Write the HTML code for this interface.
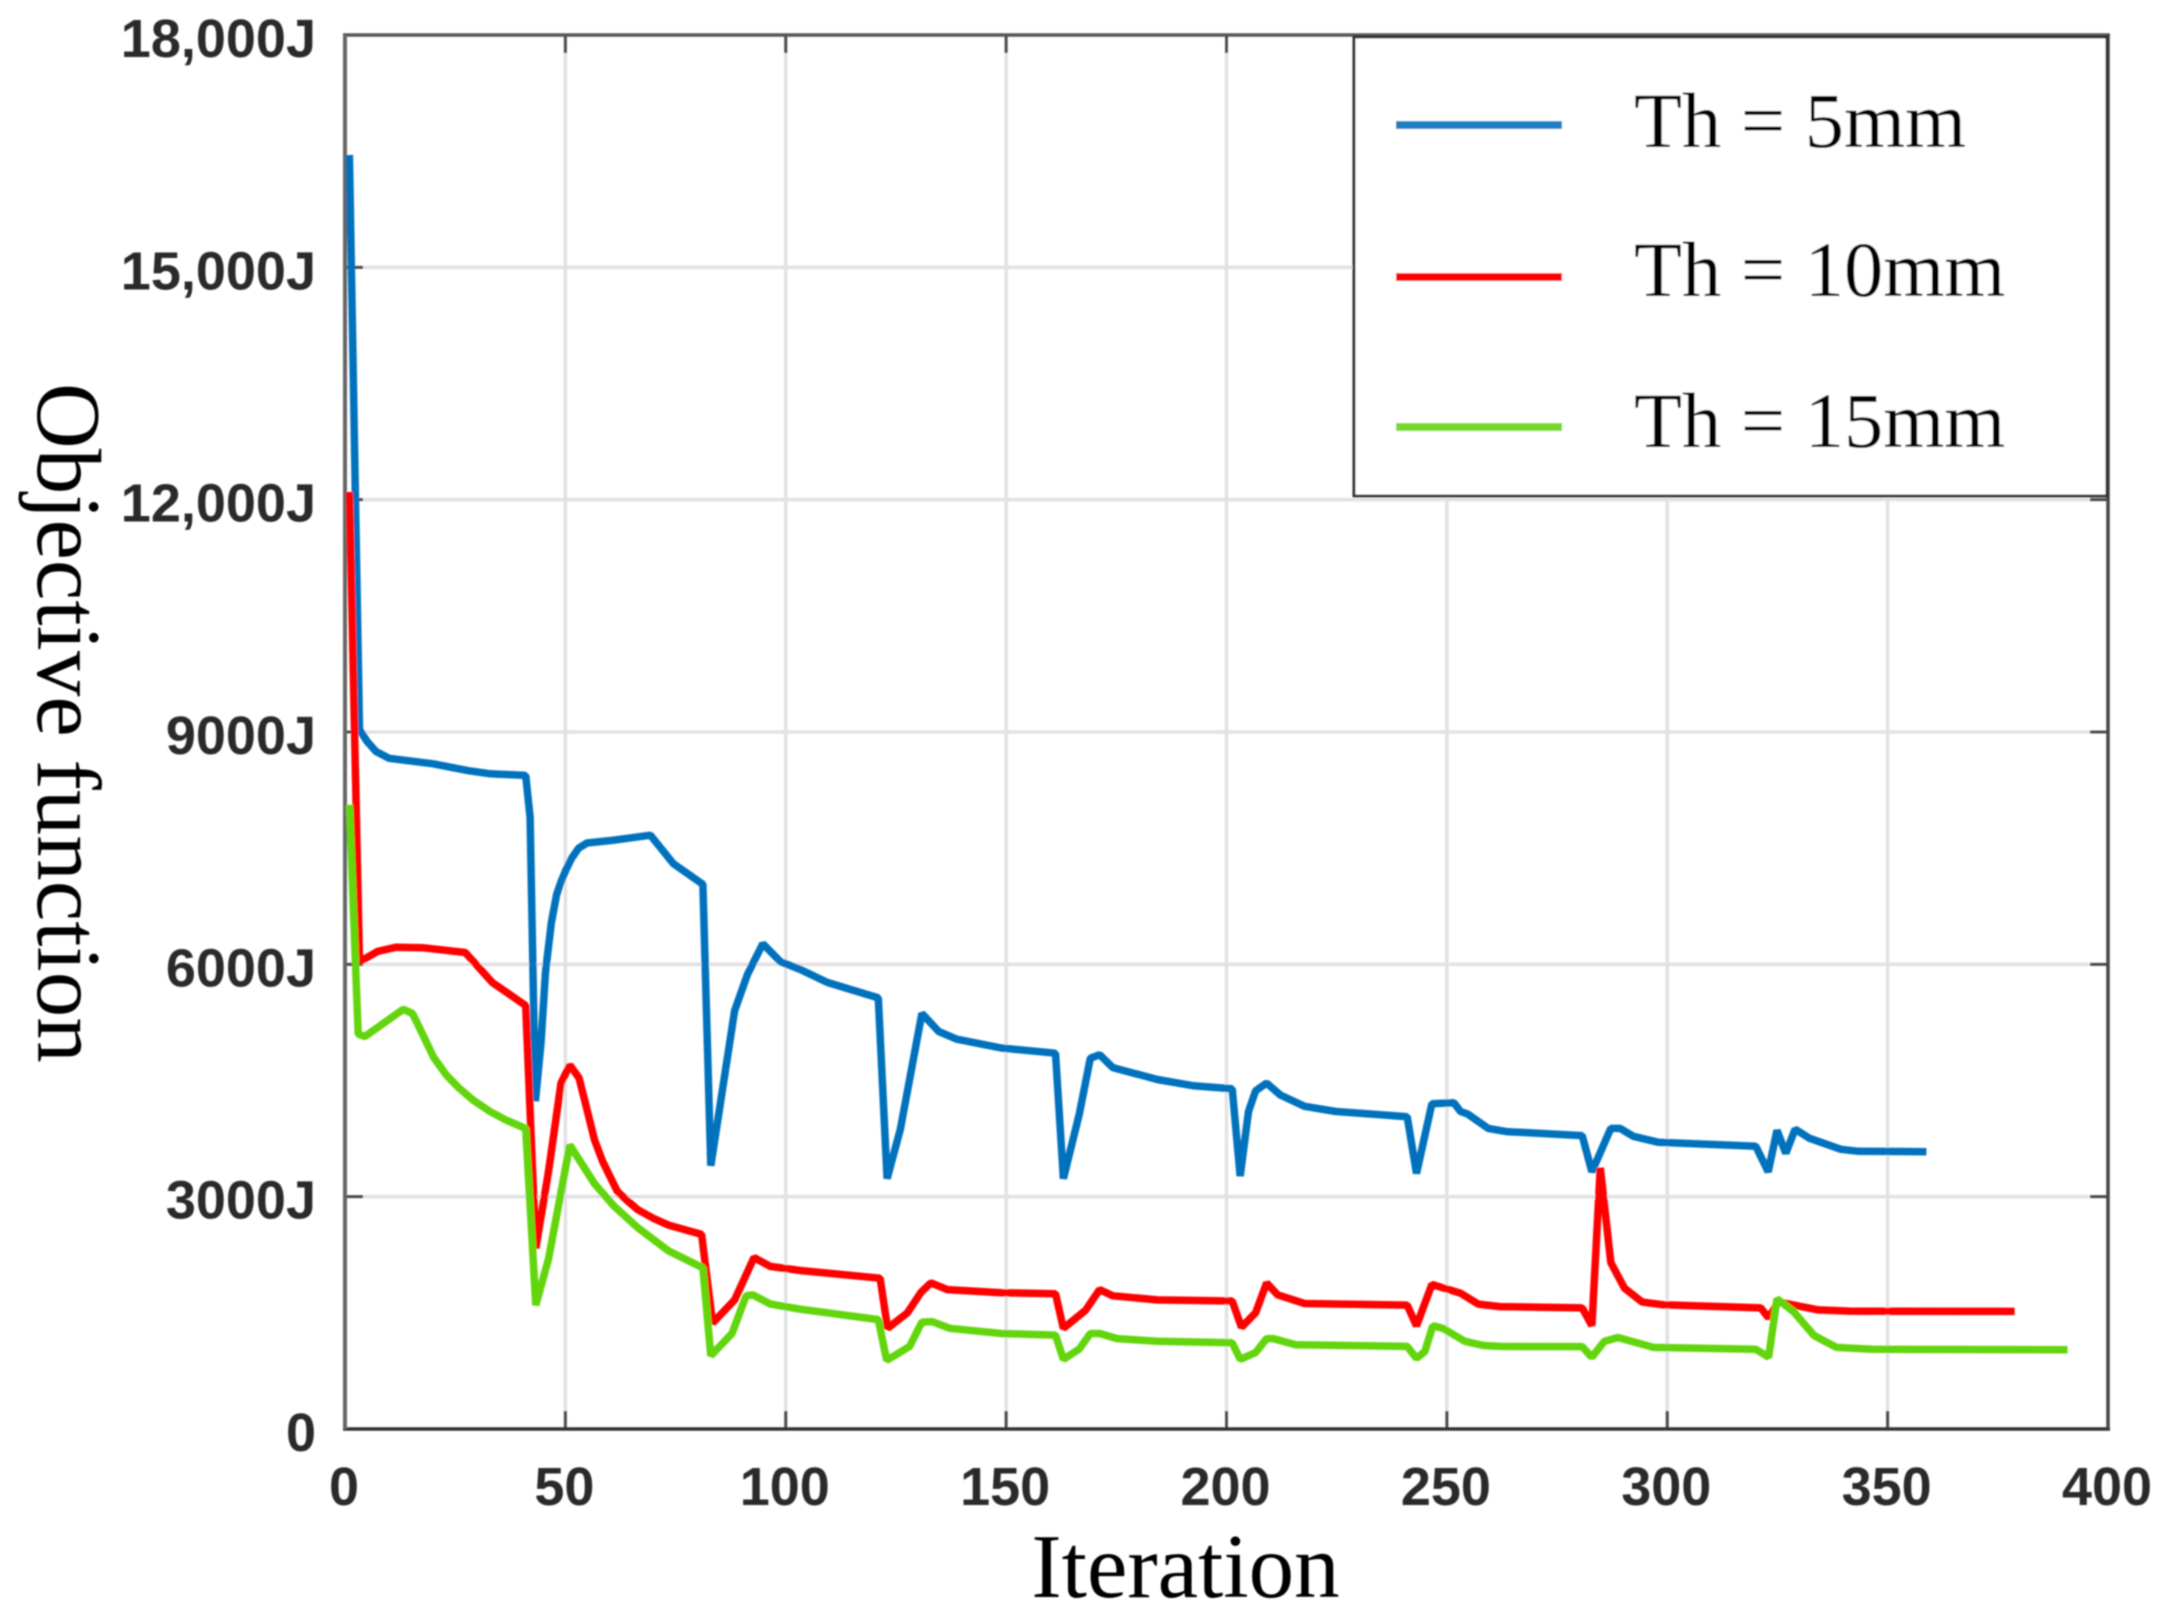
<!DOCTYPE html>
<html lang="en">
<head>
<meta charset="utf-8">
<title>Objective function vs Iteration</title>
<style>
html,body{margin:0;padding:0;background:#fff;width:2171px;height:1619px;overflow:hidden}
svg{display:block}
.tick-label{font-family:"Liberation Sans",sans-serif;font-weight:700;font-size:54px;fill:#2a2a2a}
.serif{font-family:"Liberation Serif",serif;fill:#000}
</style>
</head>
<body>
<svg id="chart" xmlns="http://www.w3.org/2000/svg" width="2171" height="1619" viewBox="0 0 2171 1619">
  <defs>
    <filter id="soft" x="-2%" y="-2%" width="104%" height="104%"><feGaussianBlur stdDeviation="0.8"/></filter>
  </defs>
  <rect width="2171" height="1619" fill="#fff"/>
  <g id="root" filter="url(#soft)">
    <g id="grid"></g>
    <g id="frame"></g>
    <g id="xlabels"></g>
    <g id="ylabels"></g>
    <g id="series"></g>
    <text class="serif" x="1185.5" y="1597" font-size="91" text-anchor="middle">Iteration</text>
    <text class="serif" transform="translate(38 383) rotate(90)" font-size="91">Objective function</text>
    <g>
      <rect x="1354" y="37" width="753" height="459" fill="#fff" stroke="#333" stroke-width="3"/>
      <line x1="1396" x2="1562" y1="125" y2="125" stroke="#1a80c4" stroke-width="8"/>
      <text class="serif" x="1634" y="147" font-size="78.5">Th = 5mm</text>
      <line x1="1396" x2="1562" y1="277" y2="277" stroke="#ff0000" stroke-width="8"/>
      <text class="serif" x="1634" y="296" font-size="78.5">Th = 10mm</text>
      <line x1="1396" x2="1562" y1="427" y2="427" stroke="#76d92b" stroke-width="8"/>
      <text class="serif" x="1634" y="447" font-size="78.5">Th = 15mm</text>
    </g>
  </g>
</svg>
<script>
const xTicks = [0, 50, 100, 150, 200, 250, 300, 350, 400];
const yTicks = [0, 3000, 6000, 9000, 12000, 15000, 18000];
const yTickLabels = ['0', '3000J', '6000J', '9000J', '12,000J', '15,000J', '18,000J'];

const iterThin5 = [1,3.3,5,7,10,20,28,33,41,42,43.2,44.5,45.5,46.8,48,49,50.2,51.4,53,54.9,60.6,69.3,74.5,81.2,83,88.4,91.3,94.8,98.8,103.3,109.4,121,123,126,130.9,134.7,138.8,148.9,161.2,163,166.6,169.1,171.2,174.2,184.3,192.4,201.3,203.1,205,206.6,209.1,212.2,217.7,224.8,241,243.1,246.6,251.6,253.1,254.7,259.4,263.5,280.7,282.9,287.2,289.3,292.3,297.9,320.1,322.9,324.9,326.9,329,332.3,339.4,343.4,358.8];
const energyThin5 = [16450,9030,8880,8750,8660,8590,8500,8460,8440,7900,4233,5000,5900,6533,6900,7067,7230,7367,7500,7567,7600,7667,7300,7033,3400,5400,5867,6267,6033,5933,5767,5567,3233,3867,5367,5133,5033,4920,4853,3233,4067,4787,4833,4667,4513,4433,4393,3267,4100,4367,4467,4313,4167,4100,4033,3300,4200,4213,4100,4067,3881,3840,3789,3321,3881,3881,3779,3703,3652,3321,3856,3560,3871,3754,3611,3586,3580];

const iterThin10 = [1,3.3,7.4,11.5,17.8,27.3,33.4,41,43.3,46.2,49,51,53.1,54.8,56.6,58.5,61.8,64,66.4,70,73.4,80.9,83.4,88.4,92.8,96.5,103.3,121.4,123.1,127.6,130.7,132.9,136.7,148.9,161.2,163,168,171.2,174.2,184.3,201.3,203.4,206.6,209.1,211.6,217.7,241,243.1,246.6,253.1,257.1,262,280.7,282.9,284.8,287.2,290.3,294.3,298.9,321.2,323,325.2,334.3,341.4,378.8];
const energyThin10 = [12100,6033,6167,6220,6213,6153,5767,5467,2333,3333,4467,4700,4533,4150,3733,3450,3067,2950,2833,2720,2633,2513,1367,1667,2213,2100,2047,1947,1300,1500,1767,1887,1800,1760,1747,1300,1533,1800,1720,1667,1653,1313,1500,1887,1733,1620,1600,1333,1867,1753,1613,1580,1564,1335,3372,2150,1818,1640,1605,1564,1436,1640,1538,1523,1518];

const iterThin15 = [1,3,4.5,8.6,13.2,15.3,17,20.1,23,25.9,29,32.9,36.5,41,43.3,46.2,51,56.6,61,66.4,73.4,81.2,83,87.8,91,92.5,96.5,103.3,121,122.9,128.1,130.9,133.2,137.2,148.9,161.2,163,166.6,169.1,171.2,175.2,184.3,201.3,203.1,206.6,209.1,210.6,215.7,241,243.1,245,246.8,249.1,254.1,258.2,262,280.7,282.9,285.7,288.8,296.9,320.1,323,324.9,328.7,333.3,338.4,346.5,390.8];
const energyThin15 = [8060,5100,5067,5233,5420,5367,5170,4800,4570,4400,4250,4100,3990,3880,1600,2200,3667,3167,2880,2600,2300,2080,947,1233,1720,1733,1613,1547,1413,887,1067,1380,1387,1300,1233,1213,900,1033,1233,1233,1167,1133,1113,900,987,1167,1167,1087,1067,913,1000,1333,1300,1133,1080,1067,1064,927,1131,1182,1054,1029,927,1681,1513,1207,1054,1029,1024];

const SVGNS = 'http://www.w3.org/2000/svg';
const plotLeft = 345, plotRight = 2108, plotTop = 35, plotBottom = 1429;
const xMax = 400, yMax = 18000;
function xScale(v) { return plotLeft + (v / xMax) * (plotRight - plotLeft); }
function yScale(v) { return plotBottom - (v / yMax) * (plotBottom - plotTop); }
function make(tag, attrs, parent) {
  const el = document.createElementNS(SVGNS, tag);
  for (const k in attrs) el.setAttribute(k, attrs[k]);
  parent.appendChild(el);
  return el;
}

const gridG = document.getElementById('grid');
const frameG = document.getElementById('frame');
const xLabG = document.getElementById('xlabels');
const yLabG = document.getElementById('ylabels');
const seriesG = document.getElementById('series');
const tickLen = 18, tickColor = '#444', gridColor = '#e2e2e2';

xTicks.forEach(function (t) {
  const x = xScale(t);
  if (t > 0 && t < xMax) {
    const g = make('line', {x1: x, x2: x, y1: plotTop, y2: plotBottom, stroke: gridColor, 'stroke-width': 3.5}, gridG);
    
    
  }
  const a = make('line', {x1: x, x2: x, y1: plotBottom, y2: plotBottom - tickLen, stroke: tickColor, 'stroke-width': 3}, frameG);
  
  
  const b = make('line', {x1: x, x2: x, y1: plotTop, y2: plotTop + tickLen, stroke: tickColor, 'stroke-width': 3}, frameG);
  
  
  const label = make('text', {x: x - 1, y: 1505, 'text-anchor': 'middle', 'class': 'tick-label'}, xLabG);
  label.textContent = String(t);
  
  
});

yTicks.forEach(function (t, i) {
  const y = yScale(t);
  if (t > 0 && t < yMax) {
    const g = make('line', {x1: plotLeft, x2: plotRight, y1: y, y2: y, stroke: gridColor, 'stroke-width': 3.5}, gridG);
    
    
  }
  const a = make('line', {x1: plotLeft, x2: plotLeft + tickLen, y1: y, y2: y, stroke: tickColor, 'stroke-width': 3}, frameG);
  
  
  const b = make('line', {x1: plotRight, x2: plotRight - tickLen, y1: y, y2: y, stroke: tickColor, 'stroke-width': 3}, frameG);
  
  
  const label = make('text', {x: 316, y: y + 22, 'text-anchor': 'end', 'class': 'tick-label'}, yLabG);
  label.textContent = yTickLabels[i];
  
  
});

const top_ = make('line', {x1: plotLeft - 2, x2: plotRight + 2, y1: plotTop, y2: plotTop, stroke: '#555', 'stroke-width': 3.5}, frameG);


const bottom_ = make('line', {x1: plotLeft - 2, x2: plotRight + 2, y1: plotBottom, y2: plotBottom, stroke: '#333', 'stroke-width': 3.5}, frameG);


const left_ = make('line', {x1: plotLeft, x2: plotLeft, y1: plotTop, y2: plotBottom, stroke: '#666', 'stroke-width': 4}, frameG);


const right_ = make('line', {x1: plotRight, x2: plotRight, y1: plotTop, y2: plotBottom, stroke: '#444', 'stroke-width': 3.5}, frameG);



function pathFrom(xs, ys) {
  return xs.map(function (v, i) {
    return (i ? 'L' : 'M') + xScale(v).toFixed(1) + ' ' + yScale(ys[i]).toFixed(1);
  }).join(' ');
}

const blueLine = make('path', {d: pathFrom(iterThin5, energyThin5), fill: 'none', stroke: '#0072bd', 'stroke-width': 7.5, 'stroke-linejoin': 'bevel'}, seriesG);


const redLine = make('path', {d: pathFrom(iterThin10, energyThin10), fill: 'none', stroke: '#ff0000', 'stroke-width': 7.5, 'stroke-linejoin': 'bevel'}, seriesG);


const greenLine = make('path', {d: pathFrom(iterThin15, energyThin15), fill: 'none', stroke: '#62d50e', 'stroke-width': 7.5, 'stroke-linejoin': 'bevel'}, seriesG);


</script>
</body>
</html>
